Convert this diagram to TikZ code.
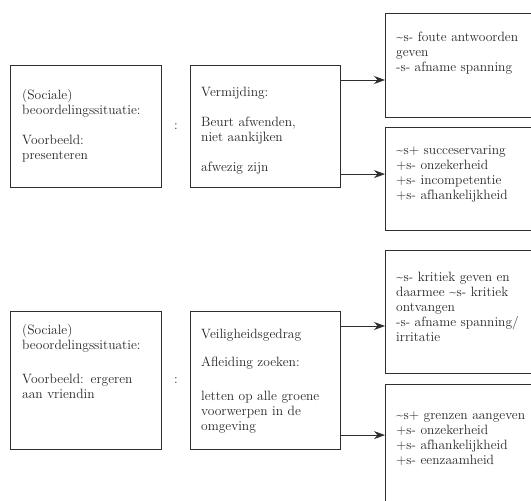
\documentclass[tikz,border=0pt]{standalone}
\usepackage{xcolor}
\usepackage{tikz}
\usetikzlibrary{arrows.meta,calc,positioning}
\definecolor{linegray}{HTML}{2E2E2E}
\definecolor{textgray}{HTML}{262626}
\tikzset{
  box/.style={draw=linegray,line width=1.1pt,inner sep=0pt,anchor=north west},
  txt/.style={text=textgray,font=\fontsize{13.5}{15}\selectfont,align=left,
    inner sep=0pt,anchor=base west,text width=140pt},
  colon/.style={text=textgray,font=\fontsize{13.5}{15}\selectfont,inner sep=0pt},
  link/.style={->,draw=linegray,line width=0.8pt}
}

\begin{document}
\begin{tikzpicture}[x=1pt,y=-1pt,>={Stealth[length=11pt,width=8pt]}]
  \useasboundingbox (0,0) rectangle (531,501);
  \clip (0,0) rectangle (531,501);
  % bovenste situatie
  \node[box,minimum width=151pt,minimum height=122pt] (sit1) at (10,65) {};
  \node[box,minimum width=150pt,minimum height=122pt] (act1) at (190,65) {};
  \node[box,minimum width=160pt,minimum height=104pt] (res1a) at (385,13) {};
  \node[box,minimum width=160pt,minimum height=103pt] (res1b) at (385,127) {};
  \node[colon] (col1) at ($(sit1.east)!.5!(act1.west)$) {:};
  \node[txt] (sit1t) at ([shift={(12,34)}]sit1.north west)
    {(Sociale)\\beoordelingssituatie:\\[15pt]Voorbeeld:\\presenteren};
  \node[txt] (act1t) at ([shift={(11,31)}]act1.north west)
    {Vermijding:\\[15pt]Beurt afwenden,\\niet aankijken\\[15pt]afwezig zijn};
  \node[txt] (res1at) at ([shift={(11,28)}]res1a.north west)
    {\textasciitilde s- foute antwoorden\\geven\\-s- afname spanning};
  \node[txt] (res1bt) at ([shift={(11,27)}]res1b.north west)
    {\textasciitilde s+ succeservaring\\+s- onzekerheid\\+s- incompetentie\\+s- afhankelijkheid};
  \draw[link] ([yshift=-15pt]act1.north east) -- ([yshift=-15pt]act1.north east -| res1a.west);
  \draw[link] ([yshift=14pt]act1.south east) -- ([yshift=14pt]act1.south east -| res1b.west);
  % onderste situatie
  \node[box,minimum width=151pt,minimum height=138pt] (sit2) at (10,311) {};
  \node[box,minimum width=150pt,minimum height=138pt] (act2) at (190,311) {};
  \node[box,minimum width=160pt,minimum height=123pt] (res2a) at (385,250) {};
  \node[box,minimum width=160pt,minimum height=140pt] (res2b) at (385,384) {};
  \node[colon] (col2) at ($(sit2.east)!.5!(act2.west)$) {:};
  \node[txt] (sit2t) at ([shift={(12,23)}]sit2.north west)
    {(Sociale)\\beoordelingssituatie:\\[19pt]Voorbeeld: ergeren\\aan vriendin};
  \node[txt] (act2t) at ([shift={(11,27)}]act2.north west)
    {Veiligheidsgedrag\\[13pt]Afleiding zoeken:\\[19pt]letten op alle groene\\voorwerpen in de\\omgeving};
  \node[txt] (res2at) at ([shift={(11,31)}]res2a.north west)
    {\textasciitilde s- kritiek geven en\\daarmee \textasciitilde s- kritiek\\ontvangen\\-s- afname spanning/\\irritatie};
  \node[txt] (res2bt) at ([shift={(11,35)}]res2b.north west)
    {\textasciitilde s+ grenzen aangeven\\+s- onzekerheid\\+s- afhankelijkheid\\+s- eenzaamheid};
  \draw[link] ([yshift=-15pt]act2.north east) -- ([yshift=-15pt]act2.north east -| res2a.west);
  \draw[link] ([yshift=15pt]act2.south east) -- ([yshift=15pt]act2.south east -| res2b.west);
\end{tikzpicture}
\end{document}
